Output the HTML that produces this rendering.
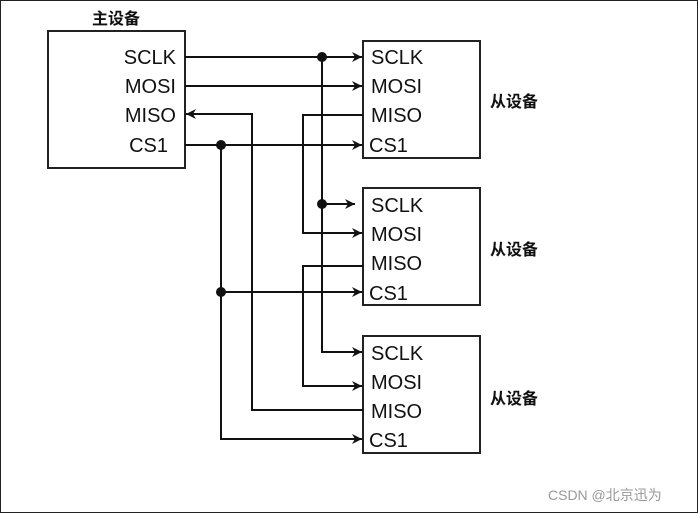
<!DOCTYPE html>
<html><head><meta charset="utf-8"><style>
html,body{margin:0;padding:0;background:#fff;}
svg{display:block;}
text{font-family:"Liberation Sans","Noto Sans CJK SC",sans-serif;}
</style></head><body>
<svg width="698" height="513" viewBox="0 0 698 513" xmlns="http://www.w3.org/2000/svg">
<defs>
<marker id="a" viewBox="0 0 10 10" refX="10" refY="5" markerWidth="10" markerHeight="10" markerUnits="userSpaceOnUse" orient="auto">
<path d="M0,0 L10,5 L0,10 L3,5 Z" fill="#111"/>
</marker>
</defs>
<rect x="0.5" y="0.5" width="697" height="512" fill="#fff" stroke="#222" stroke-width="1"/>
<g fill="none" stroke="#222" stroke-width="2">
<rect x="48" y="31" width="137" height="137"/>
<rect x="363" y="41" width="117" height="117"/>
<rect x="363" y="188" width="117" height="117"/>
<rect x="363" y="336" width="117" height="117"/>
</g>
<g font-size="20" fill="#111">
<text x="176" y="64" text-anchor="end">SCLK</text>
<text x="176" y="93" text-anchor="end">MOSI</text>
<text x="176" y="122" text-anchor="end">MISO</text>
<text x="168" y="152" text-anchor="end">CS1</text>
<text x="371" y="64">SCLK</text><text x="371" y="93">MOSI</text><text x="371" y="122">MISO</text><text x="369" y="152">CS1</text>
<text x="371" y="212">SCLK</text><text x="371" y="241">MOSI</text><text x="371" y="270">MISO</text><text x="369" y="300">CS1</text>
<text x="371" y="360">SCLK</text><text x="371" y="389">MOSI</text><text x="371" y="418">MISO</text><text x="369" y="447">CS1</text>
</g>
<g font-size="16" font-weight="bold" fill="#111">
<text x="92" y="24">主设备</text>
<text x="490" y="107">从设备</text>
<text x="490" y="255">从设备</text>
<text x="490" y="404">从设备</text>
</g>
<g fill="none" stroke="#111" stroke-width="2">
<path d="M185,57 H362" marker-end="url(#a)"/>
<path d="M322,57 V352 H362" marker-end="url(#a)"/>
<path d="M322,204 H355" marker-end="url(#a)"/>
<path d="M185,86 H362" marker-end="url(#a)"/>
<path d="M363,115 H303 V233 H362" marker-end="url(#a)"/>
<path d="M363,266 H303 V386 H362" marker-end="url(#a)"/>
<path d="M363,410 H252 V114 H186" marker-end="url(#a)"/>
<path d="M185,145 H362" marker-end="url(#a)"/>
<path d="M221,145 V439 H362" marker-end="url(#a)"/>
<path d="M221,292 H362" marker-end="url(#a)"/>
</g>
<g fill="#111">
<circle cx="322" cy="57" r="5"/>
<circle cx="322" cy="204" r="5"/>
<circle cx="221" cy="145" r="5"/>
<circle cx="221" cy="292" r="5"/>
</g>
<text x="548" y="500" font-size="14" fill="#999">CSDN @北京迅为</text>
</svg>
</body></html>
